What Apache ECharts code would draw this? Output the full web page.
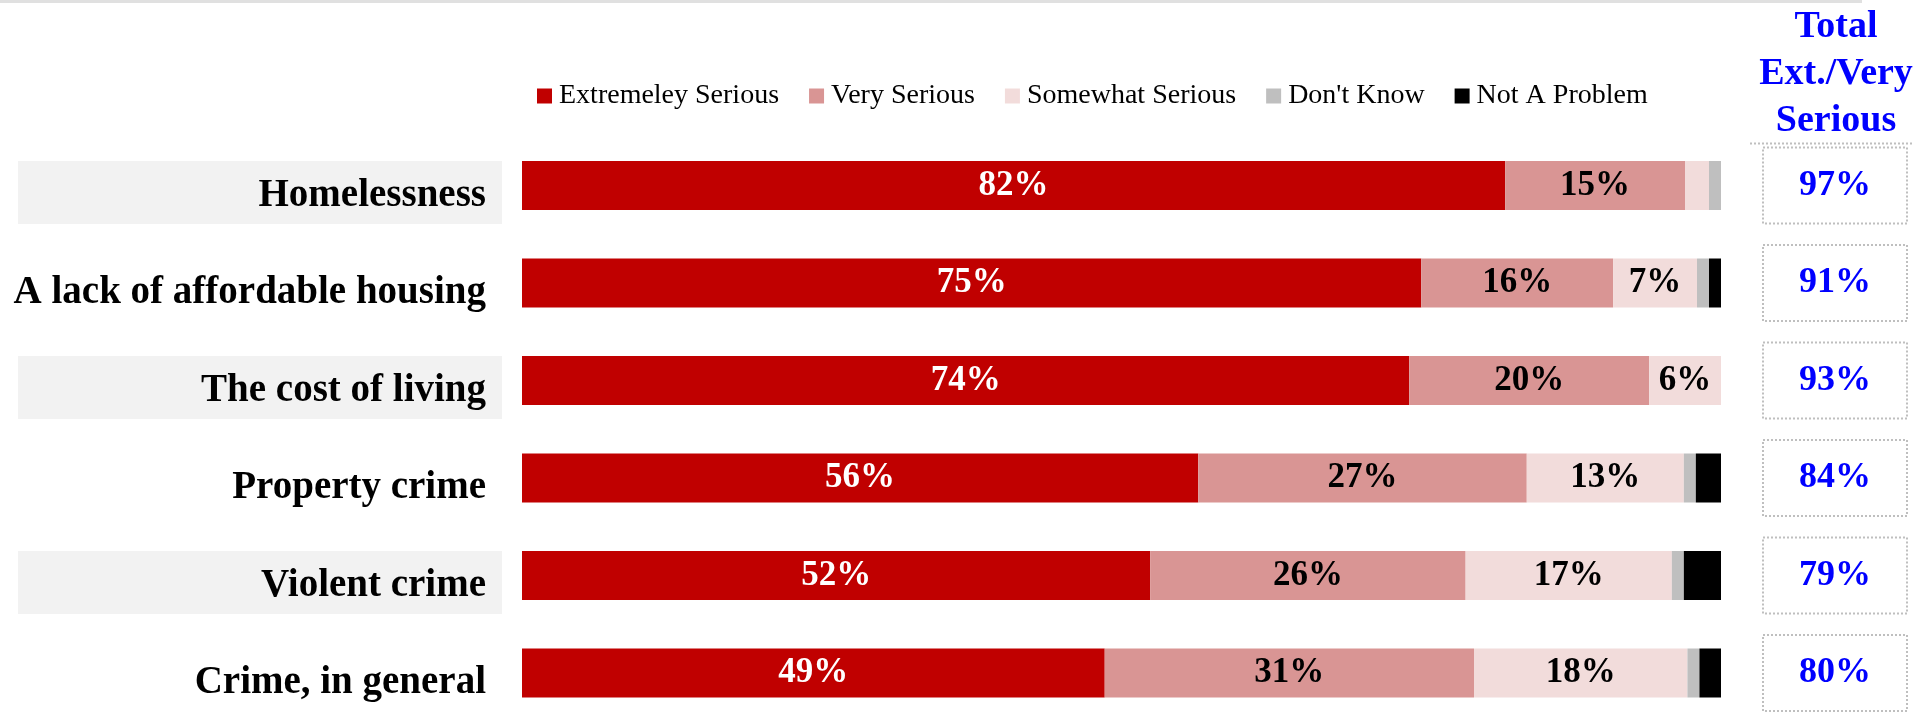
<!DOCTYPE html>
<html>
<head>
<meta charset="utf-8">
<script src="https://cdn.jsdelivr.net/npm/echarts@6/dist/echarts.min.js"></script>
<style>
html,body{margin:0;padding:0;background:#fff;}
#chart{width:1929px;height:712px;}
</style>
</head>
<body>
<div id="chart"></div>
<script>
const categories = ['Homelessness', 'A lack of affordable housing', 'The cost of living', 'Property crime', 'Violent crime', 'Crime, in general'];
const seriesNames = ['Extremeley Serious', 'Very Serious', 'Somewhat Serious', "Don't Know", 'Not A Problem'];
const extremely = [82, 75, 74, 56.4, 52.4, 48.6];
const very = [15, 16, 20, 27.4, 26.3, 30.8];
const somewhat = [2, 7, 6, 13.1, 17.2, 17.8];
const dontKnow = [1, 1, 0, 1.0, 1.0, 1.0];
const notProblem = [0, 1, 0, 2.1, 3.1, 1.8];
const totals = [97, 91, 93, 84, 79, 80];
const headerText = ['Total', 'Ext./Very', 'Serious'];
const bandRows = [0, 2, 4];

const FONT = 'Liberation Serif';
const colors = ['#C00000', '#D99594', '#F2DCDB', '#BFBFBF', '#000000'];
const labelColors = ['#FFFFFF', '#000000', '#000000', '#000000', '#000000'];
const values = [extremely, very, somewhat, dontKnow, notProblem];

const chart = echarts.init(document.getElementById('chart'), null, {renderer: 'canvas'});

const barSeries = seriesNames.map((name, k) => ({
  name: name,
  type: 'bar',
  stack: 'total',
  barWidth: 49,
  yAxisIndex: 0,
  z: 3,
  itemStyle: {color: colors[k]},
  label: {
    show: true,
    position: 'inside',
    color: labelColors[k],
    fontFamily: FONT,
    fontWeight: 'bold',
    fontSize: 35,
    formatter: p => (p.value >= 5 ? Math.round(p.value) + '%' : '')
  },
  emphasis: {disabled: true},
  data: values[k]
}));

const bandSeries = {
  name: 'band',
  type: 'custom',
  yAxisIndex: 0,
  clip: false,
  silent: true,
  z: 0,
  data: bandRows.map(i => [0, i]),
  encode: {x: 0, y: 1},
  renderItem: function (params, api) {
    const c = api.coord([0, api.value(1)]);
    return {
      type: 'rect',
      shape: {x: 18, y: c[1] - 24.5, width: 484, height: 63},
      style: {fill: '#F2F2F2'}
    };
  }
};

const option = {
  animation: false,
  backgroundColor: '#FFFFFF',
  title: {
    text: headerText.join('\n'),
    left: 1836,
    top: 4,
    padding: 0,
    textAlign: 'center',
    textStyle: {
      fontFamily: FONT,
      fontWeight: 'bold',
      fontSize: 38,
      lineHeight: 47,
      color: '#0000FF'
    }
  },
  legend: {
    data: seriesNames,
    left: 537,
    top: 82,
    padding: 0,
    itemWidth: 15,
    itemHeight: 15,
    itemGap: 30,
    icon: 'rect',
    selectedMode: false,
    textStyle: {fontFamily: FONT, fontSize: 28, color: '#000000', padding: [0, 0, 0, 2]}
  },
  grid: {left: 522, top: 185.5, width: 1199, height: 492, containLabel: false},
  xAxis: {
    type: 'value',
    min: 0,
    max: 100,
    show: false
  },
  yAxis: [
    {
      type: 'category',
      data: categories,
      inverse: true,
      boundaryGap: false,
      z: 10,
      axisLine: {show: false},
      axisTick: {show: false},
      splitLine: {show: false},
      axisLabel: {
        margin: 36,
        formatter: v => '{a|' + v + '}',
        rich: {
          a: {
            padding: [20, 0, 0, 0],
            fontFamily: FONT,
            fontWeight: 'bold',
            fontSize: 39,
            color: '#000000'
          }
        }
      }
    },
    {
      type: 'category',
      data: categories,
      inverse: true,
      boundaryGap: false,
      position: 'right',
      z: 10,
      axisLine: {show: false},
      axisTick: {show: false},
      splitLine: {show: false},
      axisLabel: {
        margin: 42,
        formatter: (v, i) => '{box|' + totals[i] + '%}',
        rich: {
          box: {
            width: 144,
            height: 76,
            lineHeight: 76,
            align: 'center',
            borderColor: '#BFBFBF',
            borderWidth: 2,
            borderType: 'dotted',
            fontFamily: FONT,
            fontWeight: 'bold',
            fontSize: 36,
            color: '#0000FF'
          }
        }
      }
    }
  ],
  graphic: [
    {type: 'rect', shape: {x: 0, y: 0, width: 1862, height: 3}, style: {fill: '#E0E0E0'}, silent: true},
    {type: 'line', shape: {x1: 1750, y1: 143.5, x2: 1913, y2: 143.5}, style: {stroke: '#BFBFBF', lineWidth: 2, lineDash: [2, 2]}, silent: true}
  ],
  series: [bandSeries].concat(barSeries)
};

chart.setOption(option);
</script>
</body>
</html>
